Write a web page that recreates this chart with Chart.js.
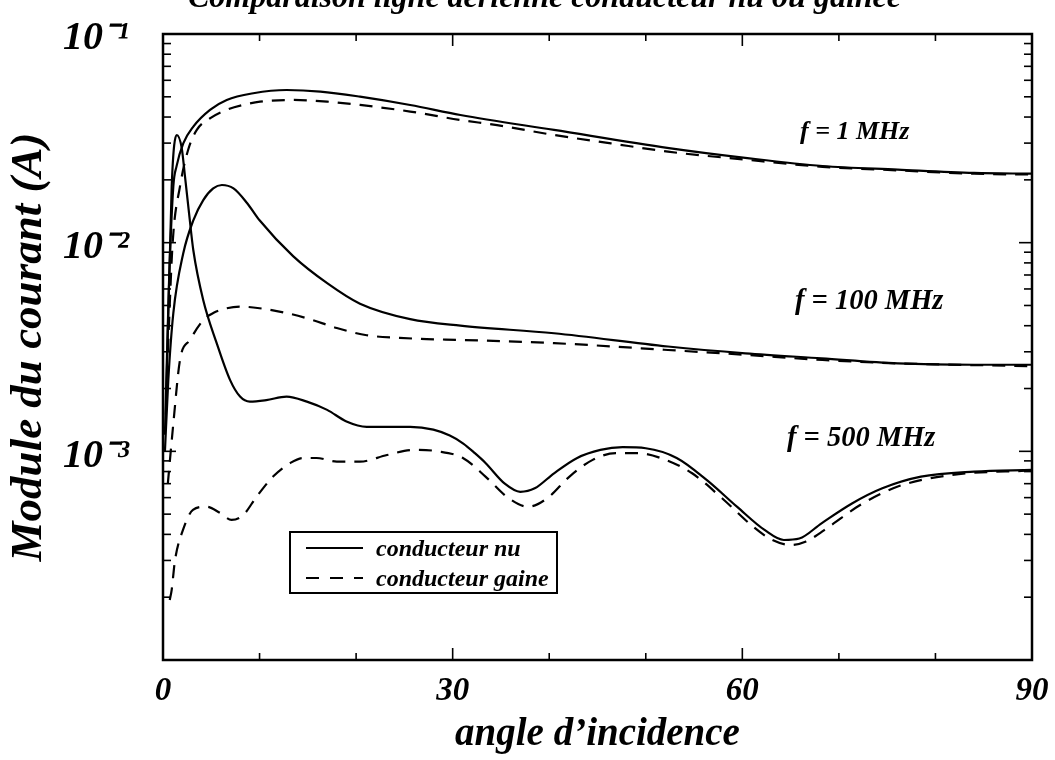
<!DOCTYPE html>
<html><head><meta charset="utf-8">
<script src="https://cdn.jsdelivr.net/npm/chart.js@4.4.1/dist/chart.umd.min.js"></script>
<style>html,body{margin:0;padding:0;background:#fff;overflow:hidden}canvas{display:block}</style>
</head><body>
<canvas id="c" width="1055" height="760"></canvas>
<script>
// ---- texts ----
const titleText = 'Comparaison ligne aérienne conducteur nu ou gainée';
const xAxisTitle = 'angle d’incidence';
const yAxisTitle = 'Module du courant (A)';
const xTickLabels = ['0', '30', '60', '90'];
const yTickValues = [0.1, 0.01, 0.001];
const yTickLabels = ['10⁻¹', '10⁻²', '10⁻³'];
const seriesNames = ['conducteur nu', 'conducteur gaine'];
const freqLabels = ['f = 1 MHz', 'f = 100 MHz', 'f = 500 MHz'];
const xTickMarks = [0, 10, 20, 30, 40, 50, 60, 70, 80, 90];
const yMantissas = [1, 2, 3, 4, 5, 6, 7, 8, 9];
const yDecades = [0.0001, 0.001, 0.01];

// ---- data: f = 1 MHz ----
const nu1Angles = [0.2, 0.6, 1.07, 1.4, 2.1, 3.14, 4.87, 6.6, 9.35, 12.8, 16.3, 20.4, 25.6, 30.8, 40.5, 52.4, 60.3, 68.3, 76.1, 84.0, 90];
const nu1Values = [0.0012, 0.006, 0.0186, 0.0232, 0.0299, 0.036, 0.0433, 0.0483, 0.052, 0.0539, 0.053, 0.0501, 0.0457, 0.0409, 0.0347, 0.0284, 0.0255, 0.0233, 0.0224, 0.0216, 0.0214];
const gaine1Angles = [0.5, 1.0, 1.76, 2.6, 3.5, 4.9, 6.6, 8.3, 10.05, 13.5, 17.0, 20.4, 25.6, 30.8, 34.6, 40.5, 46.4, 52.3, 60.3, 68.3, 76.1, 84.0, 90];
const gaine1Values = [0.003, 0.010, 0.0186, 0.0278, 0.0347, 0.0395, 0.0433, 0.0457, 0.0474, 0.0483, 0.0474, 0.0457, 0.0425, 0.0387, 0.0366, 0.0328, 0.0299, 0.0273, 0.025, 0.0231, 0.0222, 0.0214, 0.0212];

// ---- data: f = 100 MHz ----
const nu100Angles = [0.2, 0.55, 1.07, 2.1, 3.14, 4.17, 5.2, 6.1, 7.3, 8.7, 10.0, 13.5, 17.0, 20.4, 25.6, 30.8, 40.5, 52.3, 60.3, 68.2, 76.1, 84.0, 90];
const nu100Values = [0.001, 0.0022, 0.0046, 0.0089, 0.0128, 0.016, 0.0182, 0.0189, 0.0182, 0.0155, 0.0128, 0.0086, 0.0064, 0.0051, 0.0043, 0.0040, 0.00368, 0.00318, 0.00295, 0.00279, 0.00264, 0.0026, 0.0026];
const gaine100Angles = [0.5, 1.07, 1.76, 2.8, 4.2, 5.2, 6.6, 8.0, 10.0, 12.8, 15.2, 18.0, 21.1, 24.5, 27.3, 30.8, 40.5, 52.3, 60.3, 68.3, 76.1, 90];
const gaine100Values = [0.0007, 0.00136, 0.00274, 0.00342, 0.00427, 0.0046, 0.00485, 0.00494, 0.00485, 0.0046, 0.0043, 0.0039, 0.0036, 0.0035, 0.00345, 0.00342, 0.0033, 0.00306, 0.0029, 0.00274, 0.00264, 0.00256];

// ---- data: f = 500 MHz ----
const nu500Angles = [0.3, 0.9, 1.42, 1.94, 2.28, 2.7, 3.14, 4.17, 5.56, 6.94, 7.98, 9.0, 10.7, 12.8, 14.9, 17.0, 19.0, 21.1, 23.2, 25.6, 28.0, 29.7, 31.1, 32.3, 33.4, 35.4, 37.0, 38.5, 40.5, 42.9, 45.3, 47.6, 50.0, 53.2, 56.3, 59.5, 62.3, 64.3, 65.9, 68.2, 71.4, 74.5, 78.5, 84.0, 90];
const nu500Values = [0.0015, 0.0186, 0.0328, 0.0284, 0.0207, 0.0138, 0.0092, 0.0053, 0.0033, 0.0022, 0.00183, 0.00173, 0.00176, 0.00183, 0.00173, 0.00158, 0.00139, 0.00131, 0.00131, 0.00131, 0.00127, 0.00119, 0.00109, 0.00098, 0.00088, 0.0007, 0.00064, 0.000665, 0.000785, 0.00093, 0.001016, 0.001047, 0.001035, 0.00093, 0.00073, 0.00054, 0.00042, 0.000376, 0.000382, 0.000452, 0.000564, 0.000665, 0.000756, 0.0008, 0.000815];
const gaine500Angles = [0.7, 0.9, 1.24, 2.07, 3.1, 4.5, 5.9, 7.1, 8.3, 9.7, 11.4, 13.2, 14.5, 15.9, 18.0, 20.4, 23.2, 25.9, 28.5, 31.1, 33.4, 35.8, 37.8, 39.8, 42.1, 44.5, 46.9, 49.2, 51.6, 54.8, 57.9, 61.1, 63.1, 65.0, 66.6, 69.0, 72.2, 76.1, 81.6, 90];
const gaine500Values = [0.000194, 0.000217, 0.0003, 0.00042, 0.000524, 0.000543, 0.000507, 0.000469, 0.000495, 0.000607, 0.000757, 0.00088, 0.000929, 0.000929, 0.000893, 0.000893, 0.00096, 0.001016, 0.001, 0.000927, 0.000757, 0.000596, 0.000543, 0.000596, 0.000757, 0.00091, 0.00098, 0.00098, 0.000927, 0.000785, 0.000596, 0.000436, 0.000376, 0.000356, 0.00037, 0.000436, 0.000553, 0.000678, 0.00077, 0.00081];

// ---- style ----
const FONT = '"Liberation Serif", "Times New Roman", serif';
const DASH = [13, 9];
const LW = 2.2;

const pts = (xs, ys) => xs.map((x, i) => ({x, y: ys[i]}));
const mk = (label, xs, ys, dashed) => ({
  label, data: pts(xs, ys), borderColor: '#000', borderWidth: LW,
  borderDash: dashed ? DASH : [], pointRadius: 0, fill: false,
  cubicInterpolationMode: 'monotone'
});

const datasets = [
  mk(seriesNames[0] + ' 1 MHz', nu1Angles, nu1Values, false),
  mk(seriesNames[1] + ' 1 MHz', gaine1Angles, gaine1Values, true),
  mk(seriesNames[0] + ' 100 MHz', nu100Angles, nu100Values, false),
  mk(seriesNames[1] + ' 100 MHz', gaine100Angles, gaine100Values, true),
  mk(seriesNames[0] + ' 500 MHz', nu500Angles, nu500Values, false),
  mk(seriesNames[1] + ' 500 MHz', gaine500Angles, gaine500Values, true)
];

function line(ctx, x1, y1, x2, y2) { ctx.beginPath(); ctx.moveTo(x1, y1); ctx.lineTo(x2, y2); ctx.stroke(); }

const decor = {
  id: 'decor',
  afterDatasetsDraw(chart) {
    const {ctx, chartArea: a, scales: {x, y}} = chart;
    ctx.save();
    ctx.strokeStyle = '#000';
    ctx.fillStyle = '#000';
    // frame
    ctx.lineWidth = 2.5;
    ctx.strokeRect(a.left, a.top, a.right - a.left, a.bottom - a.top);
    // x tick marks (inward, bottom & top)
    ctx.lineWidth = 1.6;
    xTickMarks.forEach(v => {
      const px = x.getPixelForValue(v);
      const len = (v % 30 === 0) ? 12 : 7;
      line(ctx, px, a.bottom, px, a.bottom - len);
      line(ctx, px, a.top, px, a.top + len);
    });
    // y tick marks (inward, left & right)
    yDecades.forEach(d => yMantissas.forEach(m => {
      const py = y.getPixelForValue(d * m);
      const len = m === 1 ? 13 : 8;
      line(ctx, a.left, py, a.left + len, py);
      line(ctx, a.right, py, a.right - len, py);
    }));
    // frequency labels
    ctx.textAlign = 'left';
    ctx.textBaseline = 'alphabetic';
    const freqPos = [[800, 139], [795, 309], [787, 446]];
    const freqSize = [26, 28.5, 28.5];
    freqLabels.forEach((t, i) => {
      ctx.font = 'italic bold ' + freqSize[i] + 'px ' + FONT;
      ctx.fillText(t, freqPos[i][0], freqPos[i][1]);
    });
    // legend
    const bx = 290, by = 532, bw = 267, bh = 61;
    ctx.lineWidth = 2;
    ctx.setLineDash([]);
    ctx.fillStyle = '#fff';
    ctx.fillRect(bx, by, bw, bh);
    ctx.strokeRect(bx, by, bw, bh);
    ctx.fillStyle = '#000';
    ctx.font = 'italic bold 24px ' + FONT;
    const rows = [548, 578];
    seriesNames.forEach((n, i) => {
      ctx.lineWidth = LW;
      ctx.setLineDash(i === 0 ? [] : [13, 11]);
      line(ctx, 306, rows[i], 363, rows[i]);
      ctx.setLineDash([]);
      ctx.fillText(n, 376, rows[i] + 8);
    });
    // title (cut off at top in reference)
    ctx.font = 'italic bold 32px ' + FONT;
    ctx.fillText(titleText, 188, 7);
    ctx.restore();
  }
};

const xTickFont = {family: FONT, size: 33, style: 'italic', weight: 'bold'};
const yTickFont = {family: FONT, size: 40, style: 'italic', weight: 'bold'};

new Chart(document.getElementById('c'), {
  type: 'line',
  data: {datasets},
  options: {
    responsive: false, animation: false, devicePixelRatio: 1,
    layout: {padding: {top: 34, right: 23, left: 0, bottom: 0}},
    plugins: {legend: {display: false}, tooltip: {enabled: false}, title: {display: false}},
    scales: {
      x: {
        type: 'linear', min: 0, max: 90,
        afterFit: s => { s.height = 100; s.paddingLeft = 0; s.paddingRight = 0; },
        grid: {display: false, drawTicks: false}, border: {display: false},
        ticks: {stepSize: 30, autoSkip: false, maxRotation: 0, padding: 12, color: '#000', font: xTickFont,
          callback: v => { const i = [0, 30, 60, 90].indexOf(v); return i >= 0 ? xTickLabels[i] : ''; }},
        title: {display: true, text: xAxisTitle, color: '#000', font: {family: FONT, size: 39, style: 'italic', weight: 'bold'}, padding: {top: 0, bottom: 2}}
      },
      y: {
        type: 'logarithmic', min: 0.0001, max: 0.1,
        afterFit: s => { s.width = 163; s.paddingTop = 0; s.paddingBottom = 0; },
        grid: {display: false, drawTicks: false}, border: {display: false},
        ticks: {autoSkip: false, padding: 34, labelOffset: 5, color: '#000', font: yTickFont,
          callback: v => { const i = yTickValues.findIndex(t => Math.abs(t - v) / t < 1e-6); return i >= 0 ? yTickLabels[i] : ''; }},
        title: {display: true, text: yAxisTitle, color: '#000', font: {family: FONT, size: 45, style: 'italic', weight: 'bold'}, padding: {top: 2, bottom: 0}}
      }
    }
  },
  plugins: [decor]
});
</script>
</body></html>
